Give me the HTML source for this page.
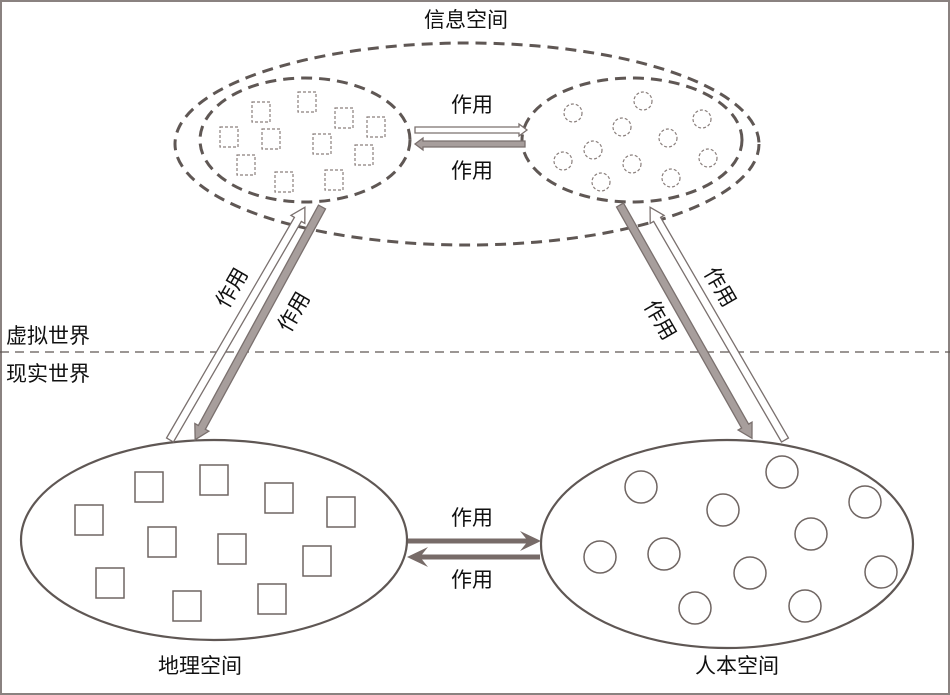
<!DOCTYPE html>
<html><head><meta charset="utf-8"><style>
html,body{margin:0;padding:0;background:#fff}
svg{display:block}
text{font-family:"Liberation Sans","Noto Sans CJK SC",sans-serif;font-size:21px;fill:#111}
</style></head><body>
<svg width="950" height="695" viewBox="0 0 950 695" xmlns="http://www.w3.org/2000/svg">
<rect x="1" y="1" width="948" height="693" fill="#fff" stroke="#8a8280" stroke-width="2"/>
<text x="466" y="27" text-anchor="middle">信息空间</text>
<g fill="none" stroke="#5f5754" stroke-width="3" stroke-dasharray="11,7">
<ellipse cx="467" cy="144" rx="292" ry="101"/>
<ellipse cx="305" cy="140" rx="105" ry="62"/>
<ellipse cx="632" cy="140" rx="110" ry="62"/>
</g>
<g fill="none" stroke="#8a7f7c" stroke-width="1.2" stroke-dasharray="3,2">
<rect x="252" y="102" width="18" height="20"/><rect x="298" y="92" width="18" height="20"/>
<rect x="335" y="108" width="18" height="20"/><rect x="367" y="117" width="18" height="20"/>
<rect x="220" y="127" width="18" height="20"/><rect x="262" y="129" width="18" height="20"/>
<rect x="313" y="134" width="18" height="20"/><rect x="355" y="145" width="18" height="20"/>
<rect x="237" y="155" width="18" height="20"/><rect x="275" y="172" width="18" height="20"/>
<rect x="325" y="170" width="18" height="20"/>
<circle cx="573" cy="113" r="9"/><circle cx="643" cy="101" r="9"/><circle cx="702" cy="119" r="9"/>
<circle cx="622" cy="127" r="9"/><circle cx="668" cy="138" r="9"/><circle cx="593" cy="150" r="9"/>
<circle cx="632" cy="164" r="9"/><circle cx="708" cy="158" r="9"/><circle cx="563" cy="161" r="9"/>
<circle cx="601" cy="182" r="9"/><circle cx="671" cy="178" r="9"/>
</g>
<line x1="0" y1="352" x2="950" y2="352" stroke="#5f5754" stroke-width="1.3" stroke-dasharray="9,6"/>
<text x="6" y="343">虚拟世界</text>
<text x="6" y="381">现实世界</text>
<g fill="none" stroke="#5f5754" stroke-width="2.2">
<ellipse cx="214" cy="540" rx="193" ry="100"/>
<ellipse cx="727" cy="544" rx="186" ry="104"/>
</g>
<g fill="none" stroke="#6f6562" stroke-width="1.5">
<rect x="75" y="505" width="28" height="30"/><rect x="135" y="472" width="28" height="30"/>
<rect x="200" y="465" width="28" height="30"/><rect x="265" y="483" width="28" height="30"/>
<rect x="327" y="497" width="28" height="30"/><rect x="148" y="527" width="28" height="30"/>
<rect x="218" y="534" width="28" height="30"/><rect x="303" y="546" width="28" height="30"/>
<rect x="96" y="568" width="28" height="30"/><rect x="173" y="591" width="28" height="30"/>
<rect x="258" y="584" width="28" height="30"/>
<circle cx="641" cy="487" r="16"/><circle cx="782" cy="472" r="16"/><circle cx="865" cy="502" r="16"/>
<circle cx="723" cy="510" r="16"/><circle cx="811" cy="534" r="16"/><circle cx="600" cy="557" r="16"/>
<circle cx="664" cy="554" r="16"/><circle cx="750" cy="573" r="16"/><circle cx="881" cy="572" r="16"/>
<circle cx="695" cy="608" r="16"/><circle cx="805" cy="606" r="16"/>
</g>
<polygon transform="translate(415,130)" points="0,-3 104,-3 104,-6 112,0 104,6 104,3 0,3" fill="#fff" stroke="#7a706e" stroke-width="1.3"/>
<polygon transform="translate(525,144) rotate(180)" points="0,-3 102,-3 102,-6 110,0 102,6 102,3 0,3" fill="#a79e9c" stroke="#7a706e" stroke-width="1.3"/>
<text x="472" y="112" text-anchor="middle">作用</text>
<text x="472" y="178" text-anchor="middle">作用</text>
<polygon transform="translate(170,440) rotate(-59.9)" points="0,-4 255,-4 255,-8 269,0 255,8 255,4 0,4" fill="#fff" stroke="#7a706e" stroke-width="1.3"/>
<polygon transform="translate(322,207) rotate(118.6)" points="0,-4 251,-4 251,-8 265,0 251,8 251,4 0,4" fill="#a79e9c" stroke="#7a706e" stroke-width="1.3"/>
<polygon transform="translate(620,205) rotate(60.5)" points="0,-4 254,-4 254,-8 268,0 254,8 254,4 0,4" fill="#a79e9c" stroke="#7a706e" stroke-width="1.3"/>
<polygon transform="translate(785,440) rotate(-120.1)" points="0,-4 255,-4 255,-8 269,0 255,8 255,4 0,4" fill="#fff" stroke="#7a706e" stroke-width="1.3"/>
<text transform="translate(232,288) rotate(-60)" text-anchor="middle" dy="7">作用</text>
<text transform="translate(294,312) rotate(-60)" text-anchor="middle" dy="7">作用</text>
<text transform="translate(660,320) rotate(60)" text-anchor="middle" dy="7">作用</text>
<text transform="translate(720,287) rotate(60)" text-anchor="middle" dy="7">作用</text>
<polygon transform="translate(408,541)" points="0,-2.5 118,-2.5 112,-10 133,0 112,10 118,2.5 0,2.5" fill="#776b68"/>
<polygon transform="translate(540,557) rotate(180)" points="0,-2.5 118,-2.5 112,-10 133,0 112,10 118,2.5 0,2.5" fill="#776b68"/>
<text x="472" y="525" text-anchor="middle">作用</text>
<text x="472" y="587" text-anchor="middle">作用</text>
<text x="200" y="673" text-anchor="middle">地理空间</text>
<text x="737" y="673" text-anchor="middle">人本空间</text>
</svg>
</body></html>
